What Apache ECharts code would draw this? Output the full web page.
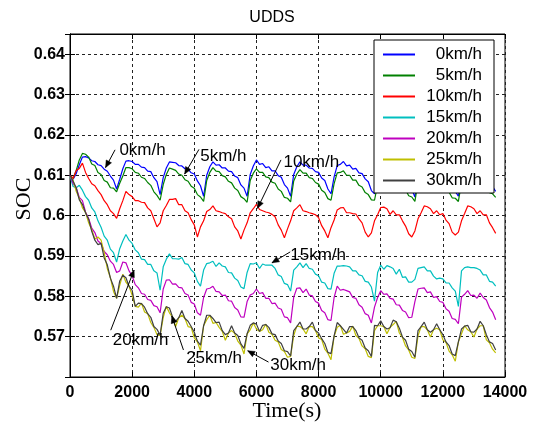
<!DOCTYPE html>
<html>
<head>
<meta charset="utf-8">
<script src="https://cdn.jsdelivr.net/npm/echarts@6/dist/echarts.min.js"></script>
<style>
  html, body { margin: 0; padding: 0; background: #ffffff; }
  #chart { width: 534px; height: 430px; }
</style>
</head>
<body>
<div id="chart"></div>
<script>
// SOC logs sampled every 100 s over the repeated UDDS cycles (0 ... 13700 s)
const sampleStepS = 100;

const speedLabels = ['0km/h', '5km/h', '10km/h', '15km/h', '20km/h', '25km/h', '30km/h'];

const soc0kmh = [
  0.6100, 0.6090, 0.6104, 0.6126, 0.6145, 0.6146, 0.6143, 0.6136, 0.6134, 0.6126,
  0.6124, 0.6115, 0.6110, 0.6098, 0.6088, 0.6066, 0.6090, 0.6116, 0.6135, 0.6136,
  0.6134, 0.6127, 0.6127, 0.6120, 0.6119, 0.6110, 0.6109, 0.6094, 0.6084, 0.6052,
  0.6094, 0.6118, 0.6133, 0.6132, 0.6131, 0.6124, 0.6123, 0.6116, 0.6115, 0.6106,
  0.6103, 0.6086, 0.6074, 0.6048, 0.6100, 0.6121, 0.6133, 0.6125, 0.6126, 0.6118,
  0.6118, 0.6110, 0.6109, 0.6098, 0.6094, 0.6076, 0.6068, 0.6048, 0.6102, 0.6123,
  0.6138, 0.6127, 0.6129, 0.6119, 0.6121, 0.6111, 0.6111, 0.6099, 0.6095, 0.6077,
  0.6068, 0.6048, 0.6102, 0.6121, 0.6133, 0.6125, 0.6125, 0.6118, 0.6117, 0.6109,
  0.6107, 0.6093, 0.6087, 0.6066, 0.6054, 0.6096, 0.6124, 0.6127, 0.6134, 0.6123,
  0.6125, 0.6115, 0.6117, 0.6106, 0.6104, 0.6091, 0.6084, 0.6062, 0.6054, 0.6096,
  0.6124, 0.6127, 0.6128, 0.6120, 0.6120, 0.6111, 0.6110, 0.6097, 0.6093, 0.6074,
  0.6065, 0.6046, 0.6098, 0.6117, 0.6131, 0.6124, 0.6124, 0.6116, 0.6116, 0.6107,
  0.6105, 0.6092, 0.6086, 0.6066, 0.6060, 0.6048, 0.6099, 0.6117, 0.6130, 0.6121,
  0.6123, 0.6113, 0.6114, 0.6102, 0.6099, 0.6082, 0.6072, 0.6060
];

const soc5kmh = [
  0.6100, 0.6092, 0.6112, 0.6138, 0.6154, 0.6152, 0.6145, 0.6128, 0.6124, 0.6107,
  0.6102, 0.6087, 0.6083, 0.6069, 0.6068, 0.6059, 0.6080, 0.6098, 0.6119, 0.6119,
  0.6116, 0.6107, 0.6105, 0.6095, 0.6092, 0.6082, 0.6075, 0.6059, 0.6050, 0.6038,
  0.6077, 0.6102, 0.6118, 0.6115, 0.6112, 0.6103, 0.6100, 0.6089, 0.6085, 0.6073,
  0.6068, 0.6052, 0.6046, 0.6035, 0.6087, 0.6107, 0.6119, 0.6110, 0.6109, 0.6099,
  0.6096, 0.6085, 0.6081, 0.6068, 0.6062, 0.6047, 0.6042, 0.6033, 0.6087, 0.6105,
  0.6116, 0.6107, 0.6107, 0.6096, 0.6094, 0.6083, 0.6080, 0.6066, 0.6060, 0.6045,
  0.6043, 0.6034, 0.6086, 0.6103, 0.6114, 0.6105, 0.6105, 0.6094, 0.6092, 0.6082,
  0.6078, 0.6063, 0.6057, 0.6042, 0.6038, 0.6079, 0.6106, 0.6107, 0.6111, 0.6100,
  0.6100, 0.6088, 0.6088, 0.6075, 0.6071, 0.6057, 0.6052, 0.6039, 0.6038, 0.6077,
  0.6105, 0.6107, 0.6108, 0.6098, 0.6097, 0.6086, 0.6083, 0.6069, 0.6064, 0.6049,
  0.6046, 0.6035, 0.6082, 0.6100, 0.6111, 0.6103, 0.6103, 0.6092, 0.6091, 0.6079,
  0.6076, 0.6062, 0.6058, 0.6044, 0.6043, 0.6035, 0.6083, 0.6099, 0.6110, 0.6101,
  0.6101, 0.6090, 0.6089, 0.6076, 0.6072, 0.6057, 0.6054, 0.6045
];

const soc10kmh = [
  0.6100, 0.6092, 0.6112, 0.6117, 0.6130, 0.6107, 0.6092, 0.6079, 0.6074, 0.6062,
  0.6052, 0.6037, 0.6027, 0.6012, 0.6005, 0.5993, 0.6017, 0.6037, 0.6060, 0.6052,
  0.6047, 0.6037, 0.6037, 0.6033, 0.6032, 0.6019, 0.6012, 0.5992, 0.5972, 0.5982,
  0.6012, 0.6025, 0.6040, 0.6040, 0.6042, 0.6027, 0.6027, 0.6012, 0.6007, 0.5990,
  0.5977, 0.5947, 0.5972, 0.5987, 0.6010, 0.6015, 0.6024, 0.6012, 0.6010, 0.6007,
  0.6005, 0.5997, 0.5992, 0.5972, 0.5962, 0.5942, 0.5964, 0.5982, 0.6007, 0.6017,
  0.6028, 0.6015, 0.6012, 0.6009, 0.6007, 0.6003, 0.5997, 0.5977, 0.5964, 0.5945,
  0.5967, 0.5987, 0.6012, 0.6019, 0.6027, 0.6012, 0.6010, 0.6007, 0.6005, 0.6002,
  0.5995, 0.5975, 0.5962, 0.5945, 0.5970, 0.5989, 0.6014, 0.6019, 0.6020, 0.6007,
  0.6007, 0.6005, 0.6004, 0.5992, 0.5982, 0.5959, 0.5947, 0.5957, 0.5987, 0.6002,
  0.6020, 0.6021, 0.6017, 0.6003, 0.6012, 0.6002, 0.6002, 0.5987, 0.5974, 0.5955,
  0.5947, 0.5962, 0.5992, 0.6007, 0.6024, 0.6022, 0.6017, 0.6005, 0.6012, 0.6002,
  0.6005, 0.5989, 0.5980, 0.5959, 0.5952, 0.5959, 0.5987, 0.6005, 0.6024, 0.6022,
  0.6017, 0.6005, 0.6012, 0.6002, 0.6002, 0.5982, 0.5970, 0.5956
];

const soc15kmh = [
  0.6098, 0.6072, 0.6069, 0.6075, 0.6063, 0.6047, 0.6038, 0.6019, 0.6009, 0.5987,
  0.5971, 0.5949, 0.5939, 0.5917, 0.5908, 0.5885, 0.5918, 0.5937, 0.5953, 0.5939,
  0.5931, 0.5915, 0.5908, 0.5892, 0.5891, 0.5879, 0.5879, 0.5863, 0.5858, 0.5815,
  0.5873, 0.5892, 0.5905, 0.5893, 0.5893, 0.5892, 0.5896, 0.5881, 0.5879, 0.5865,
  0.5858, 0.5837, 0.5825, 0.5865, 0.5881, 0.5883, 0.5887, 0.5874, 0.5883, 0.5875,
  0.5873, 0.5859, 0.5858, 0.5845, 0.5839, 0.5823, 0.5819, 0.5859, 0.5881, 0.5880,
  0.5883, 0.5869, 0.5880, 0.5877, 0.5877, 0.5877, 0.5869, 0.5853, 0.5849, 0.5832,
  0.5829, 0.5813, 0.5865, 0.5873, 0.5883, 0.5871, 0.5881, 0.5869, 0.5867, 0.5855,
  0.5851, 0.5835, 0.5833, 0.5819, 0.5818, 0.5857, 0.5875, 0.5875, 0.5876, 0.5875,
  0.5873, 0.5863, 0.5863, 0.5853, 0.5851, 0.5837, 0.5835, 0.5823, 0.5788, 0.5859,
  0.5877, 0.5867, 0.5876, 0.5873, 0.5869, 0.5855, 0.5867, 0.5847, 0.5848, 0.5835,
  0.5835, 0.5842, 0.5869, 0.5871, 0.5873, 0.5863, 0.5863, 0.5850, 0.5843, 0.5845,
  0.5843, 0.5833, 0.5833, 0.5821, 0.5813, 0.5775, 0.5863, 0.5871, 0.5873, 0.5871,
  0.5871, 0.5869, 0.5865, 0.5853, 0.5853, 0.5837, 0.5835, 0.5825
];

const soc20kmh = [
  0.6100, 0.6079, 0.6069, 0.6045, 0.6037, 0.6009, 0.5993, 0.5969, 0.5958, 0.5937,
  0.5931, 0.5911, 0.5903, 0.5887, 0.5879, 0.5859, 0.5863, 0.5885, 0.5883, 0.5863,
  0.5851, 0.5829, 0.5821, 0.5807, 0.5805, 0.5792, 0.5790, 0.5777, 0.5774, 0.5759,
  0.5818, 0.5840, 0.5841, 0.5830, 0.5831, 0.5822, 0.5821, 0.5807, 0.5803, 0.5785,
  0.5781, 0.5759, 0.5753, 0.5797, 0.5818, 0.5820, 0.5825, 0.5812, 0.5811, 0.5802,
  0.5803, 0.5789, 0.5788, 0.5772, 0.5766, 0.5749, 0.5748, 0.5787, 0.5803, 0.5807,
  0.5818, 0.5807, 0.5809, 0.5795, 0.5795, 0.5782, 0.5783, 0.5771, 0.5768, 0.5749,
  0.5747, 0.5734, 0.5798, 0.5820, 0.5821, 0.5809, 0.5818, 0.5803, 0.5801, 0.5787,
  0.5783, 0.5765, 0.5759, 0.5742, 0.5740, 0.5797, 0.5825, 0.5815, 0.5817, 0.5814,
  0.5811, 0.5797, 0.5795, 0.5779, 0.5773, 0.5757, 0.5753, 0.5734, 0.5773, 0.5797,
  0.5814, 0.5805, 0.5806, 0.5795, 0.5793, 0.5779, 0.5778, 0.5765, 0.5761, 0.5747,
  0.5748, 0.5787, 0.5818, 0.5820, 0.5821, 0.5809, 0.5811, 0.5797, 0.5799, 0.5787,
  0.5785, 0.5769, 0.5763, 0.5745, 0.5743, 0.5732, 0.5798, 0.5805, 0.5814, 0.5802,
  0.5803, 0.5795, 0.5808, 0.5797, 0.5791, 0.5772, 0.5761, 0.5742
];

const soc25kmh = [
  0.6098, 0.6088, 0.6060, 0.6043, 0.6019, 0.6008, 0.5982, 0.5965, 0.5942, 0.5947,
  0.5939, 0.5908, 0.5869, 0.5846, 0.5812, 0.5795, 0.5827, 0.5855, 0.5835, 0.5825,
  0.5803, 0.5775, 0.5773, 0.5783, 0.5761, 0.5757, 0.5735, 0.5723, 0.5705, 0.5703,
  0.5747, 0.5775, 0.5759, 0.5748, 0.5725, 0.5747, 0.5753, 0.5745, 0.5725, 0.5723,
  0.5697, 0.5687, 0.5665, 0.5727, 0.5742, 0.5753, 0.5733, 0.5735, 0.5723, 0.5713,
  0.5691, 0.5709, 0.5715, 0.5708, 0.5689, 0.5679, 0.5657, 0.5707, 0.5717, 0.5734,
  0.5719, 0.5713, 0.5717, 0.5731, 0.5711, 0.5706, 0.5691, 0.5687, 0.5668, 0.5663,
  0.5649, 0.5651, 0.5703, 0.5726, 0.5725, 0.5719, 0.5707, 0.5725, 0.5725, 0.5715,
  0.5697, 0.5693, 0.5669, 0.5659, 0.5643, 0.5701, 0.5723, 0.5728, 0.5706, 0.5709,
  0.5713, 0.5726, 0.5703, 0.5696, 0.5677, 0.5670, 0.5651, 0.5648, 0.5715, 0.5727,
  0.5727, 0.5725, 0.5707, 0.5723, 0.5730, 0.5738, 0.5709, 0.5698, 0.5677, 0.5667,
  0.5649, 0.5646, 0.5702, 0.5725, 0.5725, 0.5717, 0.5699, 0.5717, 0.5721, 0.5717,
  0.5692, 0.5686, 0.5664, 0.5655, 0.5639, 0.5687, 0.5707, 0.5727, 0.5717, 0.5712,
  0.5699, 0.5719, 0.5727, 0.5727, 0.5692, 0.5685, 0.5669, 0.5660
];

const soc30kmh = [
  0.6100, 0.6085, 0.6069, 0.6039, 0.6028, 0.6007, 0.5991, 0.5961, 0.5939, 0.5928,
  0.5931, 0.5895, 0.5878, 0.5845, 0.5825, 0.5795, 0.5838, 0.5852, 0.5846, 0.5825,
  0.5815, 0.5775, 0.5783, 0.5782, 0.5773, 0.5757, 0.5748, 0.5725, 0.5718, 0.5704,
  0.5758, 0.5774, 0.5771, 0.5749, 0.5738, 0.5747, 0.5765, 0.5745, 0.5738, 0.5725,
  0.5711, 0.5689, 0.5679, 0.5727, 0.5753, 0.5753, 0.5745, 0.5735, 0.5736, 0.5715,
  0.5705, 0.5709, 0.5727, 0.5709, 0.5703, 0.5682, 0.5671, 0.5707, 0.5728, 0.5734,
  0.5731, 0.5713, 0.5728, 0.5730, 0.5723, 0.5707, 0.5705, 0.5689, 0.5683, 0.5665,
  0.5663, 0.5652, 0.5715, 0.5725, 0.5736, 0.5719, 0.5719, 0.5725, 0.5736, 0.5715,
  0.5709, 0.5695, 0.5683, 0.5661, 0.5658, 0.5702, 0.5735, 0.5727, 0.5718, 0.5709,
  0.5725, 0.5725, 0.5715, 0.5697, 0.5691, 0.5672, 0.5665, 0.5651, 0.5728, 0.5727,
  0.5739, 0.5725, 0.5719, 0.5722, 0.5741, 0.5737, 0.5721, 0.5699, 0.5691, 0.5669,
  0.5663, 0.5649, 0.5715, 0.5725, 0.5736, 0.5717, 0.5711, 0.5717, 0.5732, 0.5717,
  0.5705, 0.5687, 0.5678, 0.5657, 0.5653, 0.5687, 0.5719, 0.5726, 0.5728, 0.5712,
  0.5711, 0.5719, 0.5738, 0.5727, 0.5705, 0.5687, 0.5683, 0.5667
];

const socSeries = [soc0kmh, soc5kmh, soc10kmh, soc15kmh, soc20kmh, soc25kmh, soc30kmh];

// line colours, one per speed
const lineColors = ['#0000ff', '#008000', '#ff0000', '#00bfbf', '#bf00bf', '#bfbf00', '#404040'];

// axis ticks
const timeTicks = [0, 2000, 4000, 6000, 8000, 10000, 12000, 14000];
const socTicks = [0.57, 0.58, 0.59, 0.6, 0.61, 0.62, 0.63, 0.64];

// callout texts with the arrow that points to each curve (data coordinates: [time s, SOC])
const callouts = [
  { text: '0km/h',  at: [1590, 0.6163], from: [1450, 0.6163], to: [1144, 0.6119] },
  { text: '5km/h',  at: [4190, 0.6147], from: [4150, 0.6164], to: [3690, 0.6103] },
  { text: '10km/h', at: [6870, 0.6132], from: [6790, 0.6138], to: [6035, 0.6018] },
  { text: '15km/h', at: [7090, 0.5902], from: [7088, 0.5910], to: [6500, 0.5883] },
  { text: '20km/h', at: [1376, 0.5691], from: [1311, 0.5716], to: [2062, 0.5865] },
  { text: '25km/h', at: [3738, 0.5646], from: [3651, 0.5667], to: [3277, 0.5751] },
  { text: '30km/h', at: [6444, 0.5629], from: [6389, 0.5637], to: [5719, 0.5665] }
];

const chart = echarts.init(document.getElementById('chart'), null, { renderer: 'canvas' });

const sansFont = '"Liberation Sans", Arial, Helvetica, sans-serif';
const serifFont = '"Liberation Serif", "Times New Roman", serif';

const series = socSeries.map((vals, k) => ({
  name: speedLabels[k],
  type: 'line',
  data: vals.map((v, i) => [i * sampleStepS, v]),
  symbol: 'none',
  showSymbol: false,
  animation: false,
  lineStyle: { color: lineColors[k], width: 1.2 },
  itemStyle: { color: lineColors[k] },
  z: 2 + k
}));

const fmtSoc = v => {
  const r = Math.round(v * 1000) / 1000;
  return socTicks.some(t => Math.abs(t - r) < 1e-6) ? String(r) : '';
};

const option = {
  animation: false,
  backgroundColor: '#ffffff',
  title: {
    text: 'UDDS',
    left: 267,
    top: 5,
    textAlign: 'center',
    textStyle: { fontFamily: sansFont, fontSize: 16, fontWeight: 'normal', color: '#000' }
  },
  grid: {
    left: 70, right: 29, top: 34, bottom: 53,
    show: true, borderColor: '#000', borderWidth: 1, backgroundColor: '#fff'
  },
  legend: {
    orient: 'vertical',
    left: 374, top: 40,
    padding: [6, 12, 4, 9],
    icon: 'rect',
    itemWidth: 32, itemHeight: 2, itemGap: 4,
    backgroundColor: '#fff',
    borderColor: '#000', borderWidth: 1, borderRadius: 0,
    data: speedLabels,
    formatter: '{a|{name}}',
    textStyle: {
      color: '#000',
      rich: { a: { width: 62, align: 'right', fontFamily: sansFont, fontSize: 17, lineHeight: 17, color: '#000' } }
    }
  },
  xAxis: [{
    type: 'value', min: timeTicks[0], max: timeTicks[timeTicks.length - 1], interval: 2000,
    axisLine: { show: true, lineStyle: { color: '#000', width: 1 } },
    axisTick: { show: true, inside: true, length: 5, lineStyle: { color: '#000' } },
    axisLabel: { color: '#000', fontFamily: sansFont, fontSize: 16, fontWeight: 'bold', margin: 8,
                 showMaxLabel: true, showMinLabel: true, formatter: v => String(Math.round(v)) },
    splitLine: { show: true, lineStyle: { color: '#222', type: [3, 3], width: 1 } }
  }, {
    type: 'value', position: 'top', min: timeTicks[0], max: timeTicks[timeTicks.length - 1], interval: 2000,
    axisLine: { show: true, lineStyle: { color: '#000' } },
    axisTick: { show: true, inside: true, length: 5, lineStyle: { color: '#000' } },
    axisLabel: { show: false }, splitLine: { show: false }
  }],
  yAxis: [{
    type: 'value', min: 0.56, max: 0.645, interval: 0.01,
    axisLine: { show: true, lineStyle: { color: '#000', width: 1 } },
    axisTick: { show: true, inside: true, length: 5, lineStyle: { color: '#000' } },
    axisLabel: { color: '#000', fontFamily: sansFont, fontSize: 16, fontWeight: 'bold', margin: 5,
                 formatter: fmtSoc, showMaxLabel: true, showMinLabel: true },
    splitLine: { show: true, lineStyle: { color: '#222', type: [3, 3], width: 1 } }
  }, {
    type: 'value', position: 'right', min: 0.56, max: 0.645, interval: 0.01,
    axisLine: { show: true, lineStyle: { color: '#000' } },
    axisTick: { show: true, inside: true, length: 5, lineStyle: { color: '#000' } },
    axisLabel: { show: false }, splitLine: { show: false }
  }],
  series: series
};

chart.setOption(option);

// axis names and callouts placed through the grid's own coordinate system
const toPx = p => chart.convertToPixel({ xAxisIndex: 0, yAxisIndex: 0 }, p);
const graphics = [];

graphics.push({
  type: 'text', x: 24, y: 199, rotation: Math.PI / 2, z: 100,
  style: { text: 'SOC', font: '22px ' + serifFont, fill: '#000', align: 'center', verticalAlign: 'middle', textAlign: 'center', textVerticalAlign: 'middle' }
});
graphics.push({
  type: 'text', x: 287, y: 411, z: 100,
  style: { text: 'Time(s)', font: '22px ' + serifFont, fill: '#000', align: 'center', verticalAlign: 'middle', textAlign: 'center', textVerticalAlign: 'middle' }
});

callouts.forEach(c => {
  const t = toPx(c.at), a = toPx(c.from), b = toPx(c.to);
  graphics.push({
    type: 'text', x: t[0], y: t[1], z: 100,
    style: { text: c.text, font: '17px ' + sansFont, fill: '#000', align: 'left', verticalAlign: 'middle', textAlign: 'left', textVerticalAlign: 'middle' }
  });
  graphics.push({
    type: 'line', z: 100,
    shape: { x1: a[0], y1: a[1], x2: b[0], y2: b[1] },
    style: { stroke: '#000', lineWidth: 1 }
  });
  const ang = Math.atan2(b[1] - a[1], b[0] - a[0]);
  const len = 7, half = 3;
  const bx = b[0] - len * Math.cos(ang), by = b[1] - len * Math.sin(ang);
  graphics.push({
    type: 'polygon', z: 100,
    shape: { points: [
      [b[0], b[1]],
      [bx + half * Math.sin(ang), by - half * Math.cos(ang)],
      [bx - half * Math.sin(ang), by + half * Math.cos(ang)]
    ] },
    style: { fill: '#000', stroke: '#000', lineWidth: 0.5 }
  });
});

chart.setOption({ graphic: graphics });
</script>
</body>
</html>
